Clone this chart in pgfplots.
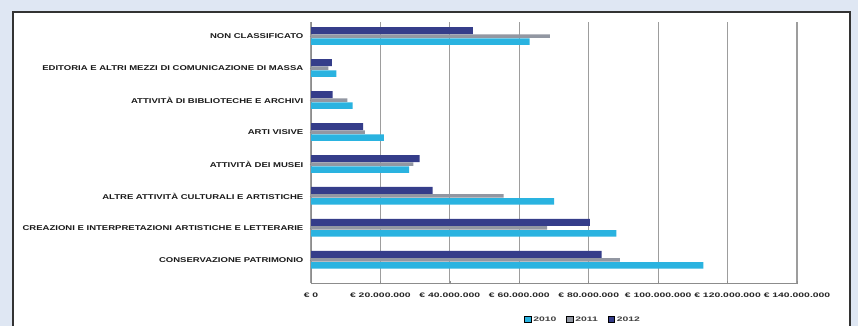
\documentclass[border=0pt]{standalone}
\usepackage{pgfplots}
\pgfplotsset{compat=1.18}
\usepackage{fontspec}
\setmainfont{Liberation Sans}
\newfontfamily\labfont[FakeStretch=1.36]{Liberation Sans}
\newfontfamily\tickfont[FakeStretch=1.6]{Liberation Sans}
\definecolor{bgblue}{HTML}{DFE7F3}
\definecolor{c2012}{HTML}{353D8A}
\definecolor{c2011}{HTML}{9297A2}
\definecolor{c2010}{HTML}{2AB3E0}
\definecolor{leg2012}{HTML}{6B58A8}
\definecolor{gridc}{HTML}{8C8C8C}
\pgfplotstableread{
y v2010 v2011 v2012
0 113.0 89.0 83.7
1 88.0 68.0 80.3
2 70.0 55.5 35.0
3 28.3 29.5 31.3
4 21.0 15.5 15.0
5 12.0 10.5 6.2
6 7.3 5.0 6.0
7 63.0 68.8 46.6
}\datatab
\begin{document}
\begin{tikzpicture}[x=1pt,y=1pt]
\useasboundingbox (0,0) rectangle (858,326);
\fill[bgblue] (0,0) rectangle (858,326);
\filldraw[fill=white, draw=black!80, line width=1.3pt] (13,-10) rectangle (850,314);
\begin{axis}[
  at={(311pt,43pt)}, anchor=south west,
  scale only axis, width=486pt, height=261pt,
  xmin=0, xmax=140, ymin=-0.72, ymax=7.44,
  xbar, 
  axis x line=bottom, axis y line=left,
  axis line style={-, draw=gridc, line width=0.8pt},
  xtick={0,20,...,140},
  xticklabels={€ 0,€ 20.000.000,€ 40.000.000,€ 60.000.000,€ 80.000.000,€ 100.000.000,€ 120.000.000,€ 140.000.000},
  xticklabel style={font=\tickfont\bfseries\fontsize{6.5}{7}\selectfont, text=black!85, inner sep=0pt, yshift=-8pt},
  ytick={0,...,7},
  yticklabels={CONSERVAZIONE PATRIMONIO,CREAZIONI E INTERPRETAZIONI ARTISTICHE E LETTERARIE,ALTRE ATTIVITÀ CULTURALI E ARTISTICHE,ATTIVITÀ DEI MUSEI,ARTI VISIVE,ATTIVITÀ DI BIBLIOTECHE E ARCHIVI,EDITORIA E ALTRI MEZZI DI COMUNICAZIONE DI MASSA,NON CLASSIFICATO},
  yticklabel style={font=\labfont\bfseries\fontsize{7}{8}\selectfont, text=black!90, inner sep=0pt, xshift=-6pt},
  major tick length=3pt,
  tick style={draw=gridc, line width=0.6pt},
  xmajorgrids, grid style={draw=gridc!85, line width=1.1pt},
  legend style={at={(0.56,-0.142)}, anchor=center, draw=none, fill=none,
    font=\tickfont\bfseries\fontsize{6.5}{7}\selectfont, text=black!75,
    legend columns=3, /tikz/every even column/.append style={column sep=8pt}},
  legend image code/.code={\draw[#1] (0pt,-2.5pt) rectangle (6.5pt,4pt);},
]
\addplot[fill=c2010, draw=none, bar width=6.5pt, bar shift=-5.5pt] table[x=v2010,y=y]{\datatab};
\addplot[fill=c2011, draw=none, bar width=3.5pt, bar shift=0pt] table[x=v2011,y=y]{\datatab};
\addplot[fill=c2012, draw=none, bar width=7pt, bar shift=5.5pt] table[x=v2012,y=y]{\datatab};
\legend{2010,2011,2012}
\end{axis}
\end{tikzpicture}
\end{document}
